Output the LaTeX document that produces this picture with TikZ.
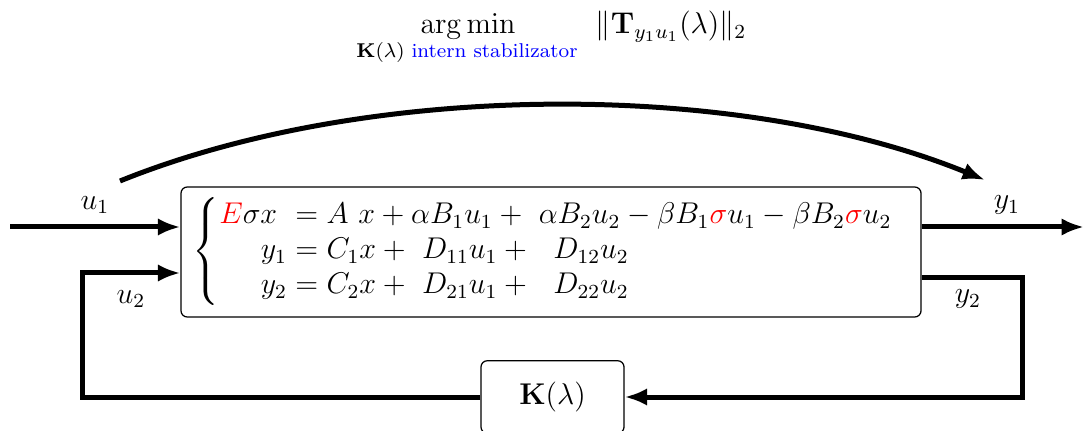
\documentclass[tikz,border=0pt]{standalone}
\usepackage{amsmath,amssymb}
\usetikzlibrary{arrows.meta,calc}
\begin{document}
\begin{tikzpicture}[x=0.4pt,y=-0.4pt,
  sig/.style={line width=2pt,-{Latex[length=9pt,width=7pt]}},
  blockbox/.style={draw,line width=0.5pt,rounded corners=2.5pt,inner sep=0pt},
  lbl/.style={inner sep=0pt,font=\large},
  ttl/.style={inner sep=0pt,anchor=base}]
\useasboundingbox (0,0) rectangle (1084,431);
% title
\node[ttl,font=\large] (argmin) at (468,34) {$\operatorname{arg\,min}$};
\node[ttl,font=\footnotesize] (argsub) at (467,58) {$\mathbf{K}(\lambda)$\ \textcolor{blue}{intern stabilizator}};
\node[ttl,font=\large] (norm) at (671,34) {$\|\mathbf{T}_{y_1u_1}(\lambda)\|_2$};
% main system block
\node[blockbox,minimum width=296pt,minimum height=52pt,font=\large] (sys) at (551,252)
 {\setlength{\jot}{0pt}$\left\{\begin{aligned}
   {\color{red}E}\sigma x\ &= A\ x + \alpha B_1u_1 +\ \alpha B_2u_2 - \beta B_1{\color{red}\sigma}u_1 - \beta B_2{\color{red}\sigma}u_2\\
   y_1 &= C_1x +\ D_{11}u_1 +\ \ D_{12}u_2\\
   y_2 &= C_2x +\ D_{21}u_1 +\ \ D_{22}u_2
 \end{aligned}\right.\hspace{6pt}$};
% controller block
\node[blockbox,minimum width=57.2pt,minimum height=29pt,font=\large] (K) at (552.5,397) {$\mathbf{K}(\lambda)$};
% coordinates
\coordinate (in1) at (10,227);
\coordinate (out1) at (1084,227);
\coordinate (c2) at (82,273);
\coordinate (c3) at (1022,278);
\coordinate (a1) at (120,181);
\coordinate (a2) at (985,180);
% signals
\draw[sig] (in1) -- (in1 -| sys.west);
\draw[sig] (out1 -| sys.east) -- (out1);
\draw[sig] (K.west) -| (c2) -- (c2 -| sys.west);
\draw[sig] (c3 -| sys.east) -- (c3) |- (K.east);
\draw[sig] (a1) .. controls (370,80) and (740,80) .. (a2);
% labels
\node[lbl] (lu1) at (95,205) {$u_1$};
\node[lbl] (lu2) at (131,299) {$u_2$};
\node[lbl] (ly1) at (1007,205) {$y_1$};
\node[lbl] (ly2) at (968,299) {$y_2$};
\end{tikzpicture}
\end{document}
